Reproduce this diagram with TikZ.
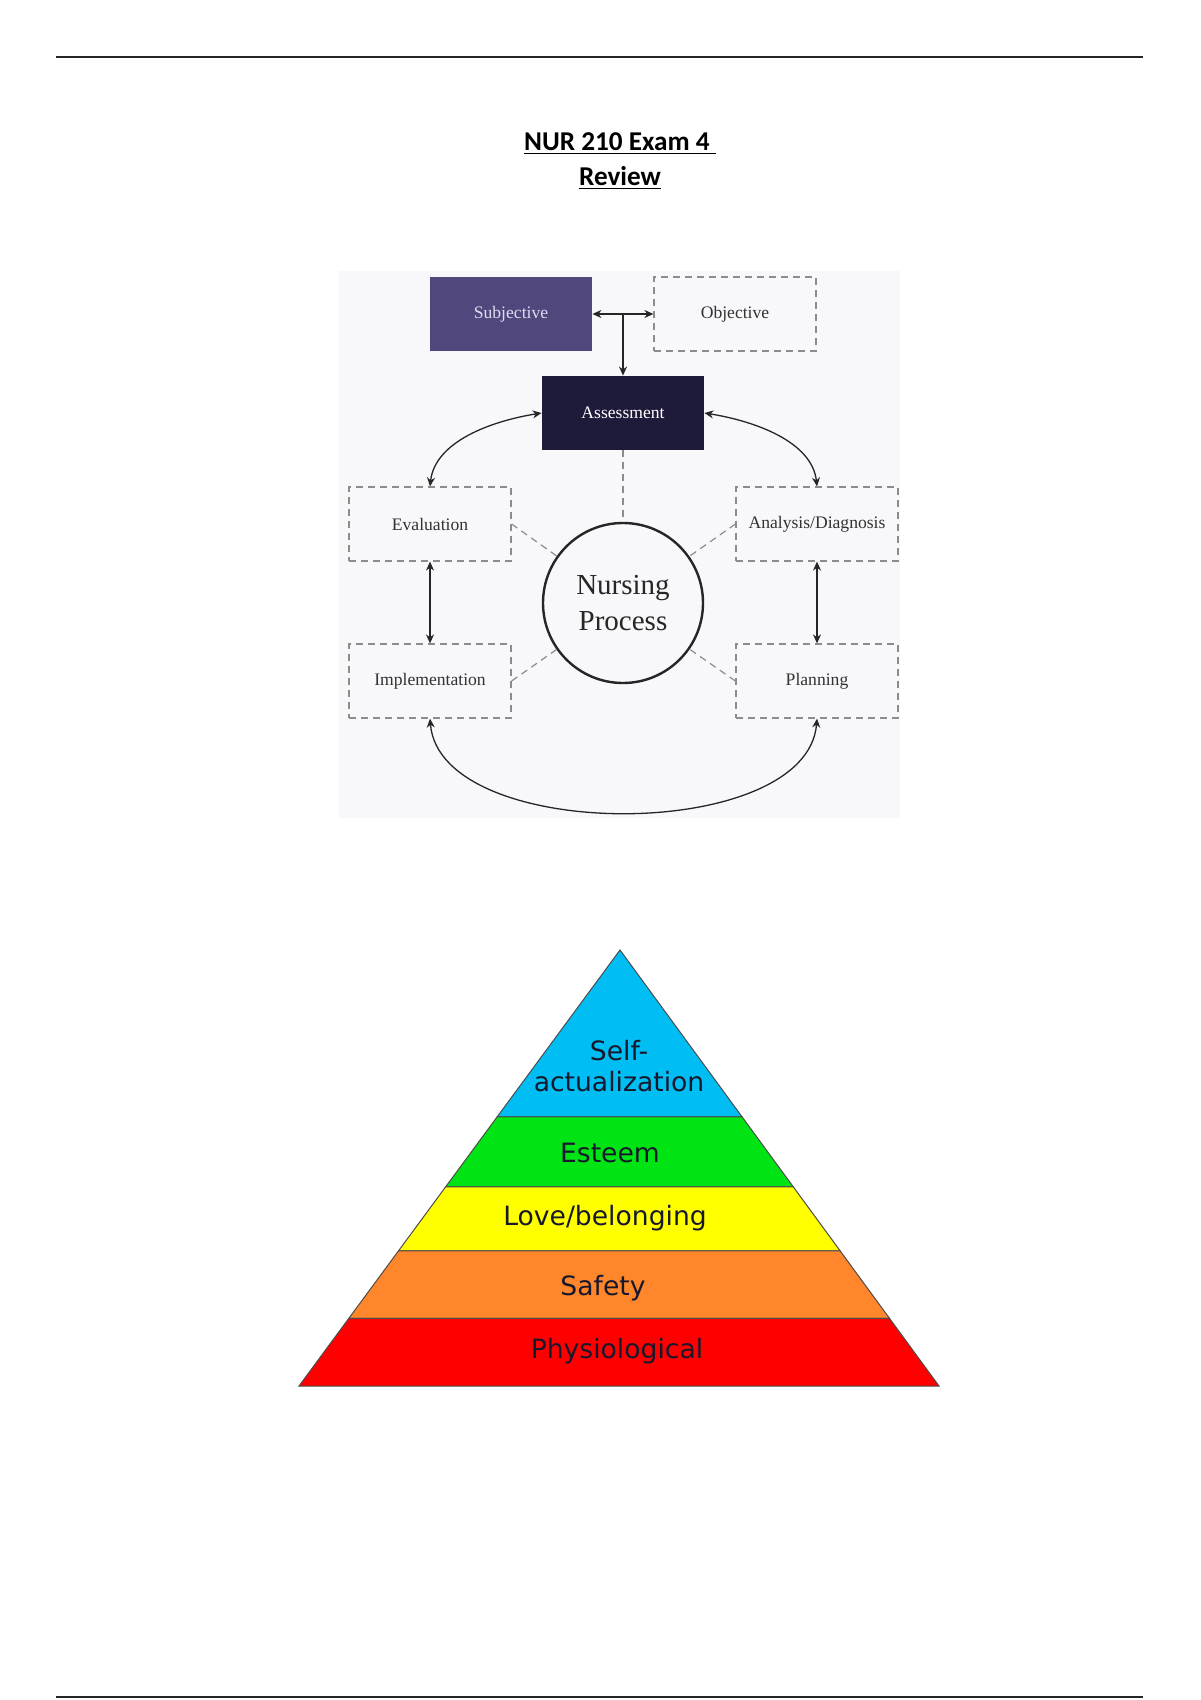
\documentclass[tikz,border=0pt]{standalone}
\usepackage{fontspec}
\setmainfont{Liberation Serif}
\newfontfamily\headfont{Carlito}
\newfontfamily\tierfont{DejaVu Sans}
\usepackage{tikz}
\usetikzlibrary{arrows.meta,positioning,calc}

\definecolor{subjpurple}{RGB}{80,72,124}
\definecolor{assessnavy}{RGB}{30,26,58}
\definecolor{panelgray}{RGB}{248,248,250}
\definecolor{dashgray}{RGB}{140,140,140}
\definecolor{boxink}{RGB}{50,50,50}
\definecolor{tierblue}{RGB}{0,190,243}
\definecolor{tiergreen}{RGB}{0,228,20}
\definecolor{tieryellow}{RGB}{255,255,0}
\definecolor{tierorange}{RGB}{255,134,42}
\definecolor{tierred}{RGB}{254,0,0}
\definecolor{tierink}{RGB}{24,24,44}

\tikzset{
	stepbox/.style={
		rectangle,
		minimum width=81pt,
		minimum height=37pt,
		inner sep=0pt,
		font=\fontsize{8.8}{10}\selectfont,
		text centered,
	},
	dashbox/.style={
		stepbox,
		draw=dashgray,
		dash pattern=on 3.5pt off 2.5pt,
		line width=0.6pt,
		text=boxink,
	},
	hub/.style={
		circle,
		draw=black!85,
		line width=1.2pt,
		minimum size=80pt,
		inner sep=0pt,
		align=center,
		font=\fontsize{14.5}{18}\selectfont,
		text=black!85,
	},
	link/.style={<->, >={Stealth[length=4.5pt,width=4pt]}, line width=0.65pt, black!85},
	spoke/.style={dashgray, dash pattern=on 3.5pt off 2.5pt, line width=0.6pt},
	band/.style={draw=black!70, line width=0.5pt},
	tier/.style={font=\tierfont\fontsize{13.3}{15.5}\selectfont, text=tierink, align=center},
}

\begin{document}
\begin{tikzpicture}[x=0.5pt,y=-0.5pt]

	% page and header/footer rules
	\useasboundingbox[fill=white] (0,0) rectangle (1200,1700);
	\draw[line width=1.2pt, black!85] (56,57) -- (1143,57);
	\draw[line width=1.2pt, black!85] (56,1697) -- (1143,1697);

	% title
	\node[font=\headfont\bfseries\fontsize{13.6}{17.5}\selectfont, align=center] (title) at (620,161)
	{
		\underline{NUR 210 Exam 4\ }\\
		\underline{Review}
	};

	% ---- nursing process ----
	\fill[panelgray] (339,271) rectangle (900,818);

	\node[stepbox, fill=subjpurple, text={rgb,255:red,222;green,218;blue,240}] (SUBJ) at (511,314) {Subjective};
	\node[dashbox] (OBJ) at (735,314) {Objective};
	\node[stepbox, fill=assessnavy, text=white] (ASSESS) at (623,413) {Assessment};

	\node[dashbox] (EVAL) at (430,524) {Evaluation};
	\node[dashbox] (DIAG) at (817,524) {Analysis/Diagnosis};
	\node[dashbox] (IMPL) at (430,681) {Implementation};
	\node[dashbox] (PLAN) at (817,681) {Planning};

	\node[hub] (NP) at (623,603) {Nursing\\Process};

	% dashed spokes to the hub
	\draw[spoke] (ASSESS.south) -- (NP);
	\draw[spoke] (EVAL.east) -- (NP);
	\draw[spoke] (DIAG.west) -- (NP);
	\draw[spoke] (IMPL.east) -- (NP);
	\draw[spoke] (PLAN.west) -- (NP);

	% arrows between the steps
	\coordinate (fork) at (ASSESS.north |- SUBJ.east);
	\draw[link] (SUBJ.east) -- (OBJ.west);
	\draw[link, <-] (ASSESS.north) -- (fork);
	\draw[link] (ASSESS.west) .. controls +(-50,8) and +(5,-45) .. (EVAL.north);
	\draw[link] (ASSESS.east) .. controls +(50,8) and +(-5,-45) .. (DIAG.north);
	\draw[link] (EVAL.south) -- (IMPL.north);
	\draw[link] (DIAG.south) -- (PLAN.north);
	\draw[link] (IMPL.south) .. controls +(10,125) and +(-10,125) .. (PLAN.south);

	% ---- hierarchy of needs ----
	\coordinate (apex) at (620,950);
	\coordinate (baseL) at (299,1386);
	\coordinate (baseR) at (939,1386);

	\filldraw[band, fill=tierblue] (apex) -- ($(apex)!0.383!(baseL)$) -- ($(apex)!0.383!(baseR)$) -- cycle;
	\filldraw[band, fill=tiergreen] ($(apex)!0.383!(baseL)$) -- ($(apex)!0.543!(baseL)$) -- ($(apex)!0.543!(baseR)$) -- ($(apex)!0.383!(baseR)$) -- cycle;
	\filldraw[band, fill=tieryellow] ($(apex)!0.543!(baseL)$) -- ($(apex)!0.690!(baseL)$) -- ($(apex)!0.690!(baseR)$) -- ($(apex)!0.543!(baseR)$) -- cycle;
	\filldraw[band, fill=tierorange] ($(apex)!0.690!(baseL)$) -- ($(apex)!0.845!(baseL)$) -- ($(apex)!0.845!(baseR)$) -- ($(apex)!0.690!(baseR)$) -- cycle;
	\filldraw[band, fill=tierred] ($(apex)!0.845!(baseL)$) -- (baseL) -- (baseR) -- ($(apex)!0.845!(baseR)$) -- cycle;

	\node[tier] (SELFACT) at (619,1066) {Self-\\actualization};
	\node[tier] (ESTEEM) at (610,1153) {Esteem};
	\node[tier] (LOVE) at (605,1218) {Love/belonging};
	\node[tier] (SAFETY) at (603,1288) {Safety};
	\node[tier] (PHYSIO) at (617,1351) {Physiological};

\end{tikzpicture}
\end{document}
